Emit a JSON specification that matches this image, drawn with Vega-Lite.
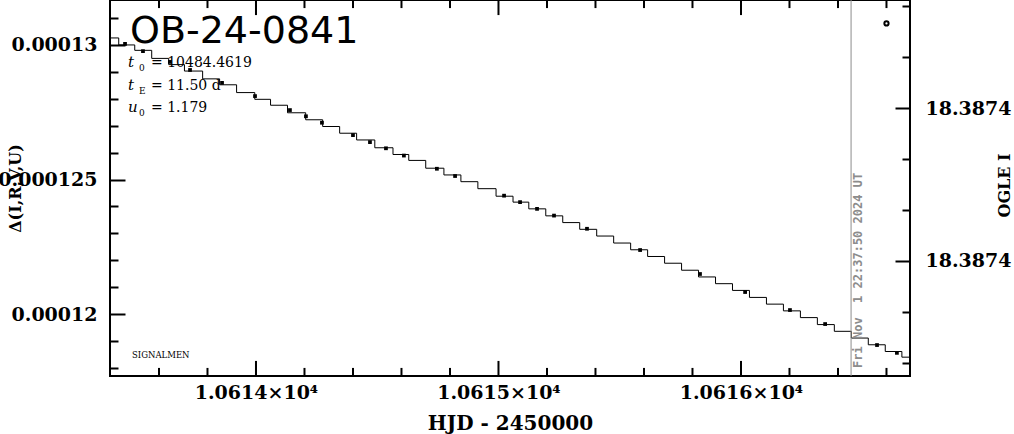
{
  "$schema": "https://vega.github.io/schema/vega-lite/v6.json",
  "width": 800,
  "height": 376,
  "autosize": {"type": "none"},
  "padding": {"left": 110, "top": 0, "right": 104, "bottom": 58},
  "background": "white",
  "config": {
    "view": {"stroke": "black", "strokeWidth": 2},
    "axis": {
      "domain": false, "grid": false, "tickColor": "black", "tickWidth": 2,
      "labelColor": "black", "labelFont": "DejaVu Serif", "labelFontWeight": "bold", "labelFontSize": 19,
      "titleFont": "DejaVu Serif", "titleFontWeight": "bold", "titleColor": "black",
      "labelOverlap": false, "labelFlush": false, "labelBound": false
    }
  },
  "datasets": {
    "curve": [
      {"hjd": 10613.398, "d": 0.00013026}, {"hjd": 10613.47, "d": 0.00013000}, {"hjd": 10613.53, "d": 0.00012980},
      {"hjd": 10613.61, "d": 0.00012950}, {"hjd": 10613.67, "d": 0.00012927}, {"hjd": 10613.74, "d": 0.00012903},
      {"hjd": 10613.82, "d": 0.00012874}, {"hjd": 10613.88, "d": 0.00012852}, {"hjd": 10613.96, "d": 0.00012823},
      {"hjd": 10614.03, "d": 0.00012798}, {"hjd": 10614.09, "d": 0.00012776}, {"hjd": 10614.17, "d": 0.00012748},
      {"hjd": 10614.24, "d": 0.00012722}, {"hjd": 10614.31, "d": 0.00012697}, {"hjd": 10614.38, "d": 0.00012672},
      {"hjd": 10614.45, "d": 0.00012647}, {"hjd": 10614.53, "d": 0.00012618}, {"hjd": 10614.60, "d": 0.00012593},
      {"hjd": 10614.66, "d": 0.00012571}, {"hjd": 10614.74, "d": 0.00012542}, {"hjd": 10614.81, "d": 0.00012517},
      {"hjd": 10614.88, "d": 0.00012492}, {"hjd": 10614.95, "d": 0.00012466}, {"hjd": 10615.03, "d": 0.00012438},
      {"hjd": 10615.09, "d": 0.00012416}, {"hjd": 10615.16, "d": 0.00012391}, {"hjd": 10615.23, "d": 0.00012365},
      {"hjd": 10615.30, "d": 0.00012340}, {"hjd": 10615.37, "d": 0.00012315}, {"hjd": 10615.44, "d": 0.00012290},
      {"hjd": 10615.51, "d": 0.00012264}, {"hjd": 10615.58, "d": 0.00012239}, {"hjd": 10615.65, "d": 0.00012214},
      {"hjd": 10615.72, "d": 0.00012189}, {"hjd": 10615.79, "d": 0.00012163}, {"hjd": 10615.86, "d": 0.00012138},
      {"hjd": 10615.93, "d": 0.00012113}, {"hjd": 10616.00, "d": 0.00012088}, {"hjd": 10616.07, "d": 0.00012062},
      {"hjd": 10616.14, "d": 0.00012037}, {"hjd": 10616.21, "d": 0.00012012}, {"hjd": 10616.28, "d": 0.00011987},
      {"hjd": 10616.35, "d": 0.00011961}, {"hjd": 10616.42, "d": 0.00011936}, {"hjd": 10616.49, "d": 0.00011911},
      {"hjd": 10616.56, "d": 0.00011886}, {"hjd": 10616.63, "d": 0.00011861}, {"hjd": 10616.697, "d": 0.00011840}
    ],
    "blobs": [
      {"hjd": 10613.460, "d": 0.00013004}, {"hjd": 10613.534, "d": 0.00012977}, {"hjd": 10613.645, "d": 0.00012937},
      {"hjd": 10613.728, "d": 0.00012907}, {"hjd": 10613.860, "d": 0.00012859}, {"hjd": 10613.996, "d": 0.00012810},
      {"hjd": 10614.140, "d": 0.00012758}, {"hjd": 10614.206, "d": 0.00012735}, {"hjd": 10614.272, "d": 0.00012711},
      {"hjd": 10614.400, "d": 0.00012665}, {"hjd": 10614.470, "d": 0.00012639}, {"hjd": 10614.536, "d": 0.00012616},
      {"hjd": 10614.610, "d": 0.00012589}, {"hjd": 10614.746, "d": 0.00012540}, {"hjd": 10614.821, "d": 0.00012513},
      {"hjd": 10615.023, "d": 0.00012440}, {"hjd": 10615.089, "d": 0.00012416}, {"hjd": 10615.159, "d": 0.00012391},
      {"hjd": 10615.229, "d": 0.00012366}, {"hjd": 10615.365, "d": 0.00012317}, {"hjd": 10615.584, "d": 0.00012238},
      {"hjd": 10615.831, "d": 0.00012149}, {"hjd": 10616.017, "d": 0.00012082}, {"hjd": 10616.202, "d": 0.00012015},
      {"hjd": 10616.347, "d": 0.00011963}, {"hjd": 10616.561, "d": 0.00011885}, {"hjd": 10616.643, "d": 0.00011856}
    ],
    "xticks": [
      {"t": 10613.6}, {"t": 10613.8}, {"t": 10614}, {"t": 10614.2}, {"t": 10614.4}, {"t": 10614.6}, {"t": 10614.8},
      {"t": 10615}, {"t": 10615.2}, {"t": 10615.4}, {"t": 10615.6}, {"t": 10615.8}, {"t": 10616}, {"t": 10616.2},
      {"t": 10616.4}, {"t": 10616.6}
    ]
  },
  "resolve": {"scale": {"x": "independent", "y": "independent"}, "axis": {"x": "independent", "y": "independent"}},
  "layer": [
    {
      "data": {"name": "curve"},
      "mark": {"type": "line", "interpolate": "step", "color": "black", "strokeWidth": 1},
      "encoding": {
        "x": {
          "field": "hjd", "type": "quantitative",
          "scale": {"domain": [10613.398, 10616.697], "nice": false, "zero": false},
          "axis": {
            "orient": "bottom",
            "values": [10614, 10615, 10616],
            "ticks": false,
            "labelExpr": "format(datum.value / 10000, '.4f') + '×10⁴'",
            "labelPadding": 7,
            "title": "HJD - 2450000", "titleFontSize": 20,
            "titleX": 400, "titleY": 53, "titleAlign": "center", "titleBaseline": "alphabetic"
          }
        },
        "y": {
          "field": "d", "type": "quantitative",
          "scale": {"domain": [0.0001177, 0.00013167], "nice": false, "zero": false},
          "axis": {
            "orient": "left",
            "values": [0.000118, 0.000119, 0.00012, 0.000121, 0.000122, 0.000123, 0.000124, 0.000125, 0.000126, 0.000127, 0.000128, 0.000129, 0.00013, 0.000131],
            "tickSize": {"condition": {"test": "abs(datum.value * 200000 - round(datum.value * 200000)) < 0.001", "value": -15}, "value": -8},
            "labelExpr": "abs(datum.value * 200000 - round(datum.value * 200000)) < 0.001 ? '' + datum.value : ''",
            "labelPadding": 28,
            "title": "Δ(I,R,V,U)", "titleFontSize": 16, "titleAngle": 270,
            "titleX": -90, "titleY": 188, "titleAlign": "center", "titleBaseline": "alphabetic"
          }
        }
      }
    },
    {
      "data": {"name": "xticks"},
      "transform": [{"filter": "abs(datum.t - round(datum.t)) < 0.001"}],
      "mark": {"type": "rule", "color": "black", "strokeWidth": 2},
      "encoding": {
        "x": {"field": "t", "type": "quantitative", "scale": {"domain": [10613.398, 10616.697], "nice": false, "zero": false}, "axis": null},
        "y": {"datum": 0.0001177, "type": "quantitative", "scale": {"domain": [0.0001177, 0.00013167], "nice": false, "zero": false}, "axis": null},
        "y2": {"datum": 0.00011826}
      }
    },
    {
      "data": {"name": "xticks"},
      "transform": [{"filter": "abs(datum.t - round(datum.t)) >= 0.001"}],
      "mark": {"type": "rule", "color": "black", "strokeWidth": 2},
      "encoding": {
        "x": {"field": "t", "type": "quantitative", "scale": {"domain": [10613.398, 10616.697], "nice": false, "zero": false}, "axis": null},
        "y": {"datum": 0.0001177, "type": "quantitative", "scale": {"domain": [0.0001177, 0.00013167], "nice": false, "zero": false}, "axis": null},
        "y2": {"datum": 0.0001180}
      }
    },
    {
      "data": {"name": "xticks"},
      "transform": [{"filter": "abs(datum.t - round(datum.t)) < 0.001"}],
      "mark": {"type": "rule", "color": "black", "strokeWidth": 2},
      "encoding": {
        "x": {"field": "t", "type": "quantitative", "scale": {"domain": [10613.398, 10616.697], "nice": false, "zero": false}, "axis": null},
        "y": {"datum": 0.00013167, "type": "quantitative", "scale": {"domain": [0.0001177, 0.00013167], "nice": false, "zero": false}, "axis": null},
        "y2": {"datum": 0.00013111}
      }
    },
    {
      "data": {"name": "xticks"},
      "transform": [{"filter": "abs(datum.t - round(datum.t)) >= 0.001"}],
      "mark": {"type": "rule", "color": "black", "strokeWidth": 2},
      "encoding": {
        "x": {"field": "t", "type": "quantitative", "scale": {"domain": [10613.398, 10616.697], "nice": false, "zero": false}, "axis": null},
        "y": {"datum": 0.00013167, "type": "quantitative", "scale": {"domain": [0.0001177, 0.00013167], "nice": false, "zero": false}, "axis": null},
        "y2": {"datum": 0.00013137}
      }
    },
    {
      "data": {"name": "blobs"},
      "mark": {"type": "point", "shape": "square", "filled": true, "color": "black", "size": 14, "opacity": 1},
      "encoding": {
        "x": {"field": "hjd", "type": "quantitative", "scale": {"domain": [10613.398, 10616.697], "nice": false, "zero": false}, "axis": null},
        "y": {"field": "d", "type": "quantitative", "scale": {"domain": [0.0001177, 0.00013167], "nice": false, "zero": false}, "axis": null}
      }
    },
    {
      "data": {"values": [{"event": "now"}]},
      "mark": {"type": "rule", "color": "#8c8c8c", "strokeWidth": 1},
      "encoding": {"x": {"datum": 10616.454, "type": "quantitative", "scale": {"domain": [10613.398, 10616.697], "nice": false, "zero": false}, "axis": null}}
    },
    {
      "data": {"values": [{"txt": "Fri Nov \u00a01 22:37:50 2024 UT"}]},
      "mark": {"type": "text", "angle": 270, "align": "left", "baseline": "middle", "font": "DejaVu Sans Mono", "fontWeight": "bold", "fontSize": 12, "color": "#8c8c8c"},
      "encoding": {
        "x": {"datum": 10616.4846, "type": "quantitative", "scale": {"domain": [10613.398, 10616.697], "nice": false, "zero": false}, "axis": null},
        "y": {"datum": 0.000118, "type": "quantitative", "scale": {"domain": [0.0001177, 0.00013167], "nice": false, "zero": false}, "axis": null},
        "text": {"field": "txt"}
      }
    },
    {
      "data": {"values": [{"txt": "OB-24-0841"}]},
      "mark": {"type": "text", "align": "left", "baseline": "alphabetic", "font": "DejaVu Sans", "fontSize": 38, "color": "black"},
      "encoding": {
        "x": {"datum": 10613.4805, "type": "quantitative", "scale": {"domain": [10613.398, 10616.697], "nice": false, "zero": false}, "axis": null},
        "y": {"datum": 0.00013007, "type": "quantitative", "scale": {"domain": [0.0001177, 0.00013167], "nice": false, "zero": false}, "axis": null},
        "text": {"field": "txt"}
      }
    },
    {
      "data": {"values": [{"txt": ["t", "t", "u"]}]},
      "mark": {"type": "text", "align": "left", "baseline": "alphabetic", "font": "DejaVu Serif", "fontStyle": "italic", "fontSize": 15, "lineHeight": 22.5, "color": "black"},
      "encoding": {
        "x": {"datum": 10613.4722, "type": "quantitative", "scale": {"domain": [10613.398, 10616.697], "nice": false, "zero": false}, "axis": null},
        "y": {"datum": 0.00012918, "type": "quantitative", "scale": {"domain": [0.0001177, 0.00013167], "nice": false, "zero": false}, "axis": null},
        "text": {"field": "txt"}
      }
    },
    {
      "data": {"values": [{"txt": ["0", "E", "0"]}]},
      "mark": {"type": "text", "align": "left", "baseline": "alphabetic", "font": "DejaVu Serif", "fontSize": 9, "lineHeight": 22.5, "color": "black"},
      "encoding": {
        "x": {"datum": 10613.5176, "type": "quantitative", "scale": {"domain": [10613.398, 10616.697], "nice": false, "zero": false}, "axis": null},
        "y": {"datum": 0.00012903, "type": "quantitative", "scale": {"domain": [0.0001177, 0.00013167], "nice": false, "zero": false}, "axis": null},
        "text": {"field": "txt"}
      }
    },
    {
      "data": {"values": [{"txt": ["= 10484.4619", "= 11.50 d", "= 1.179"]}]},
      "mark": {"type": "text", "align": "left", "baseline": "alphabetic", "font": "DejaVu Serif", "fontSize": 14, "lineHeight": 22.5, "color": "black"},
      "encoding": {
        "x": {"datum": 10613.5671, "type": "quantitative", "scale": {"domain": [10613.398, 10616.697], "nice": false, "zero": false}, "axis": null},
        "y": {"datum": 0.00012918, "type": "quantitative", "scale": {"domain": [0.0001177, 0.00013167], "nice": false, "zero": false}, "axis": null},
        "text": {"field": "txt"}
      }
    },
    {
      "data": {"values": [{"txt": "SIGNALMEN"}]},
      "mark": {"type": "text", "align": "left", "baseline": "alphabetic", "font": "DejaVu Serif", "fontSize": 8.5, "color": "black"},
      "encoding": {
        "x": {"datum": 10613.4887, "type": "quantitative", "scale": {"domain": [10613.398, 10616.697], "nice": false, "zero": false}, "axis": null},
        "y": {"datum": 0.000118364, "type": "quantitative", "scale": {"domain": [0.0001177, 0.00013167], "nice": false, "zero": false}, "axis": null},
        "text": {"field": "txt"}
      }
    },
    {
      "data": {"values": [{"survey": "OGLE"}]},
      "mark": {"type": "point", "shape": "circle", "filled": false, "color": "black", "strokeWidth": 2, "size": 18, "opacity": 1},
      "encoding": {
        "x": {"datum": 10616.6, "type": "quantitative", "scale": {"domain": [10613.398, 10616.697], "nice": false, "zero": false}, "axis": null},
        "y": {
          "datum": 18.3873634, "type": "quantitative",
          "scale": {"domain": [18.3873588, 18.3874326], "reverse": true, "nice": false, "zero": false},
          "axis": {
            "orient": "right",
            "values": [18.38736, 18.38737, 18.38738, 18.38739, 18.3874, 18.38741, 18.38742, 18.38743],
            "tickSize": {"condition": {"test": "abs(datum.value - 18.38738) < 0.000001 || abs(datum.value - 18.38741) < 0.000001", "value": -15}, "value": -8},
            "labelExpr": "abs(datum.value - 18.38738) < 0.000001 || abs(datum.value - 18.38741) < 0.000001 ? format(datum.value, '.4f') : ''",
            "labelPadding": 30,
            "title": "OGLE I", "titleFontSize": 16, "titleAngle": 270,
            "titleX": 99, "titleY": 185, "titleAlign": "center", "titleBaseline": "alphabetic"
          }
        }
      }
    }
  ]
}
